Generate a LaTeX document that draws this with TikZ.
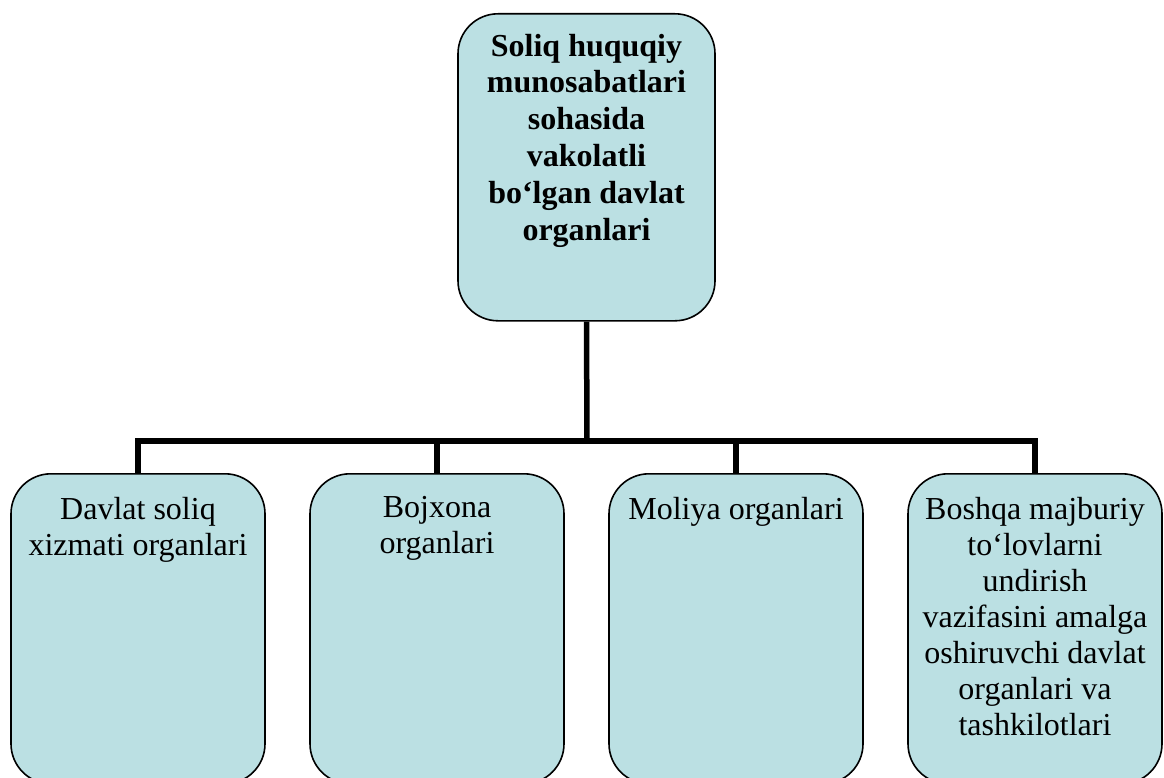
\documentclass[tikz,border=0pt]{standalone}
\usepackage{fontspec}
\setmainfont{Liberation Serif}
\definecolor{cardfill}{RGB}{187,224,227}
\newcommand{\cardtext}[3]{\parbox[t][#2][t]{#1}{\centering\vspace*{#3}}}
\newcommand{\cardbody}[4]{\parbox[t][#2][t]{#1}{\centering\vspace*{#3}#4\par}}
\begin{document}
\begin{tikzpicture}[x=1pt,y=-1pt,
  card/.style={draw=black, line width=1.6pt, fill=cardfill,
    rounded corners=40pt, inner sep=0pt, anchor=north},
  headfont/.style={font=\fontsize{32}{36.8}\selectfont\bfseries},
  itemfont/.style={font=\fontsize{32}{36}\selectfont},
  link/.style={line width=5.5pt, line join=miter}]
\useasboundingbox (0,0) rectangle (1164,778);

% head box
\node[card, headfont] (head) at (586.5,13)
  {\cardbody{257pt}{307pt}{20pt}{Soliq huquqiy\\munosabatlari\\sohasida\\vakolatli\\bo‘lgan davlat\\organlari}};

% four subordinate bodies
\node[card, itemfont] (b1) at (138,473)
  {\cardbody{254pt}{310pt}{23pt}{Davlat soliq\\xizmati organlari}};
\node[card, itemfont] (b2) at (437,473)
  {\cardbody{254pt}{310pt}{23pt}{Bojxona\\organlari}};
\node[card, itemfont] (b3) at (736,473)
  {\cardbody{254pt}{310pt}{23pt}{Moliya organlari}};
\node[card, itemfont] (b4) at (1035,473)
  {\cardbody{254pt}{310pt}{23pt}{Boshqa majburiy\\to‘lovlarni\\undirish\\vazifasini amalga\\oshiruvchi davlat\\organlari va\\tashkilotlari}};

% tree connectors
\coordinate (bus) at (587,441);
\draw[link] (head.south) -- (bus);
\draw[link] (b1.north) -- (b1.north |- bus) -- (b4.north |- bus) -- (b4.north);
\draw[link] (b2.north) -- (b2.north |- bus);
\draw[link] (b3.north) -- (b3.north |- bus);
\end{tikzpicture}
\end{document}
